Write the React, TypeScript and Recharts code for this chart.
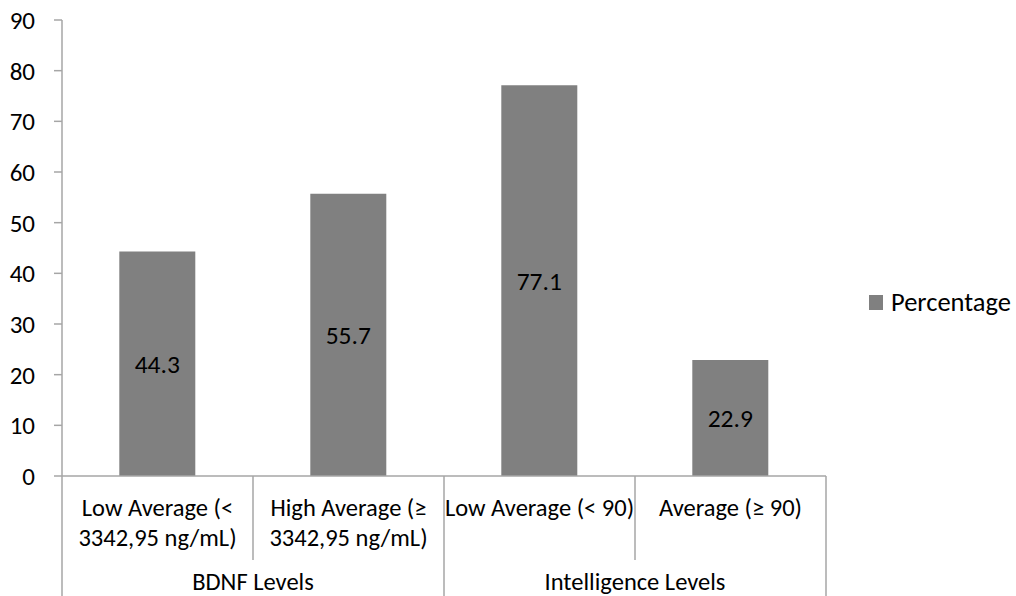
import { BarChart, Bar, XAxis, YAxis, Legend, LabelList } from 'recharts';

const CATEGORIES = [
  'Low Average (<\n3342,95 ng/mL)',
  'High Average (≥\n3342,95 ng/mL)',
  'Low Average (< 90)',
  'Average (≥ 90)',
];
const PERCENTAGES = [44.3, 55.7, 77.1, 22.9];
const GROUPS = ['BDNF Levels', 'Intelligence Levels'];
const GROUP_SPANS = [2, 2];
const Y_TICKS = [0, 10, 20, 30, 40, 50, 60, 70, 80, 90];

const W = 1016;
const H = 596;
const MARGIN = { top: 20, right: 190, bottom: 0, left: 0 };
const Y_AXIS_W = 62;
const X_AXIS_H = 120;
const FONT = 'Carlito, Calibri, Lato, sans-serif';
const FONT_SIZE = 24.5;
const BAR_COLOR = '#808080';
const LINE_COLOR = '#a6a6a6';

const data = CATEGORIES.map((c, i) => ({ category: c, value: PERCENTAGES[i] }));

// index of the first category of each group
const groupStarts = GROUP_SPANS.reduce<number[]>((acc, _s, i) => {
  acc.push(i === 0 ? 0 : acc[i - 1] + GROUP_SPANS[i - 1]);
  return acc;
}, []);

const bandWidth = (W - MARGIN.left - MARGIN.right - Y_AXIS_W) / CATEGORIES.length;

function CategoryTick(props: any) {
  const { x, y, payload, index } = props;
  const lines = String(payload.value).split('\n');
  const left = x - bandWidth / 2;
  const g = groupStarts.indexOf(index);
  const isLast = index === CATEGORIES.length - 1;
  return (
    <g>
      <line x1={left} y1={y} x2={left} y2={g >= 0 ? H : y + 84} stroke={LINE_COLOR} strokeWidth={1.5} />
      {isLast && <line x1={left + bandWidth} y1={y} x2={left + bandWidth} y2={H} stroke={LINE_COLOR} strokeWidth={1.5} />}
      <text x={x} y={y + 40} textAnchor="middle" fontSize={FONT_SIZE} fontFamily={FONT} fill="#000">
        {lines.map((l, i) => (
          <tspan key={i} x={x} dy={i === 0 ? 0 : 29.5}>{l}</tspan>
        ))}
      </text>
      {g >= 0 && (
        <text x={left + (GROUP_SPANS[g] * bandWidth) / 2} y={y + 114} textAnchor="middle" fontSize={FONT_SIZE} fontFamily={FONT} fill="#000">
          {GROUPS[g]}
        </text>
      )}
    </g>
  );
}

function LegendContent() {
  return (
    <div style={{ display: 'flex', alignItems: 'center', fontFamily: FONT, fontSize: 26.5, lineHeight: '30px', color: '#000', whiteSpace: 'nowrap' }}>
      <span style={{ display: 'inline-block', width: 14, height: 15, background: BAR_COLOR, marginRight: 8 }} />
      <span>Percentage</span>
    </div>
  );
}

export default function App() {
  return (
    <div style={{ position: 'absolute', left: 0, top: 0, width: W, height: H, background: '#fff' }}>
      <BarChart width={W} height={H} data={data} margin={MARGIN} barCategoryGap="30%">
        <XAxis
          dataKey="category"
          height={X_AXIS_H}
          interval={0}
          tickSize={0}
          tickMargin={0}
          tickLine={false}
          axisLine={{ stroke: LINE_COLOR, strokeWidth: 1.5 }}
          tick={<CategoryTick />}
        />
        <YAxis
          width={Y_AXIS_W}
          domain={[0, 90]}
          ticks={Y_TICKS}
          interval={0}
          tickSize={8}
          tickMargin={19}
          axisLine={{ stroke: LINE_COLOR, strokeWidth: 1.5 }}
          tickLine={{ stroke: LINE_COLOR, strokeWidth: 1.5 }}
          tick={{ fontSize: 25, fontFamily: FONT, fill: '#000' }}
        />
        <Legend
          layout="vertical"
          align="center"
          verticalAlign="middle"
          content={<LegendContent />}
          wrapperStyle={{ left: 869, top: 287, width: 'auto' }}
        />
        <Bar dataKey="value" name="Percentage" fill={BAR_COLOR} isAnimationActive={false}>
          <LabelList dataKey="value" position="center" fontSize={25.5} fontFamily={FONT} fill="#000" />
        </Bar>
      </BarChart>
    </div>
  );
}
